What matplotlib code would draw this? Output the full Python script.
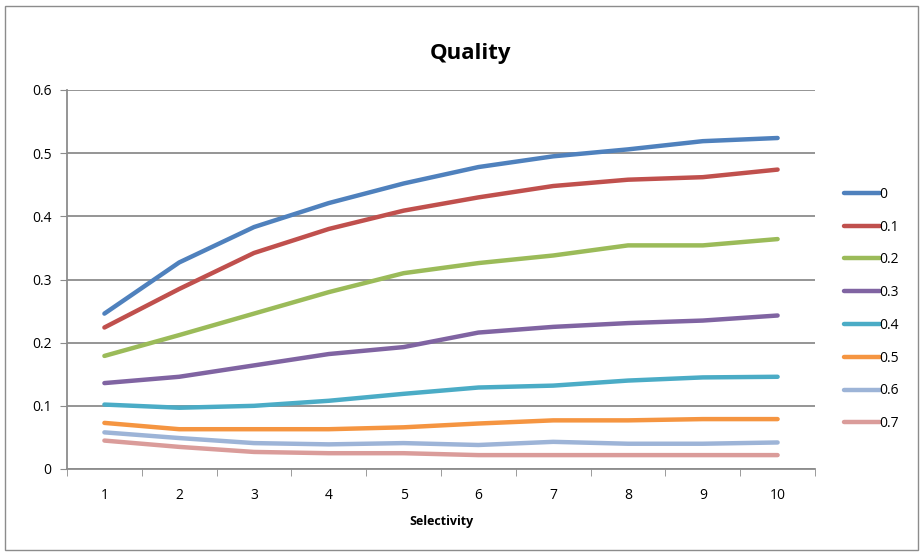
import matplotlib
matplotlib.use('Agg')
import matplotlib.pyplot as plt
from matplotlib.patches import Rectangle

plt.rcParams['font.family'] = ['Open Sans', 'DejaVu Sans']

# data
selectivity = [1, 2, 3, 4, 5, 6, 7, 8, 9, 10]
series_names = ['0', '0.1', '0.2', '0.3', '0.4', '0.5', '0.6', '0.7']
q_00 = [0.246, 0.327, 0.383, 0.421, 0.452, 0.478, 0.495, 0.506, 0.519, 0.524]
q_01 = [0.224, 0.285, 0.342, 0.380, 0.409, 0.430, 0.448, 0.458, 0.462, 0.474]
q_02 = [0.179, 0.212, 0.246, 0.280, 0.310, 0.326, 0.338, 0.354, 0.354, 0.364]
q_03 = [0.136, 0.146, 0.164, 0.182, 0.193, 0.216, 0.225, 0.231, 0.235, 0.243]
q_04 = [0.102, 0.097, 0.100, 0.108, 0.119, 0.129, 0.132, 0.140, 0.145, 0.146]
q_05 = [0.073, 0.063, 0.063, 0.063, 0.066, 0.072, 0.077, 0.077, 0.079, 0.079]
q_06 = [0.058, 0.049, 0.041, 0.039, 0.041, 0.038, 0.043, 0.040, 0.040, 0.042]
q_07 = [0.045, 0.035, 0.027, 0.025, 0.025, 0.022, 0.022, 0.022, 0.022, 0.022]
all_series = [q_00, q_01, q_02, q_03, q_04, q_05, q_06, q_07]

colors = ['#4F81BD', '#C0504D', '#9BBB59', '#8064A2',
          '#4BACC6', '#F59541', '#9DB4D7', '#DA9C9A']

fig = plt.figure(figsize=(9.22, 5.56), dpi=100)
ax = fig.add_axes([67/922, 1 - 469/556, (815-67)/922, (469-90)/556])

# outer chart border
fig.patches.append(Rectangle((5/922, 6/556), 913/922, 544/556, transform=fig.transFigure,
                             fill=False, edgecolor='#8c8c8c', linewidth=1))

for vals, name, c in zip(all_series, series_names, colors):
    ax.plot(selectivity, vals, color=c, lw=3.2, solid_capstyle='round',
            solid_joinstyle='round', label=name)

ax.set_xlim(0.5, 10.5)
ax.set_ylim(0, 0.6)
ax.set_yticks([0, 0.1, 0.2, 0.3, 0.4, 0.5, 0.6])
ax.set_yticklabels(['0', '0.1', '0.2', '0.3', '0.4', '0.5', '0.6'])
ax.set_xticks(selectivity)
ax.set_xticks([x + 0.5 for x in range(0, 11)], minor=True)
ax.tick_params(axis='x', which='major', length=0, pad=14, labelsize=10)
ax.tick_params(axis='x', which='minor', length=5, color='#8c8c8c', direction='out')
ax.tick_params(axis='y', length=5, color='#8c8c8c', labelsize=10, pad=6)
ax.yaxis.grid(True, color='#8c8c8c', lw=1.3)
ax.set_axisbelow(True)
for s in ['top', 'right']:
    ax.spines[s].set_visible(False)
for s in ['left', 'bottom']:
    ax.spines[s].set_color('#8c8c8c')
    ax.spines[s].set_linewidth(1.3)

ax.set_xlabel('Selectivity', fontsize=9, fontweight='bold', labelpad=8)
fig.text(470/922, 1 - 53/556, 'Quality', ha='center', va='center',
         fontsize=16, fontweight='bold')

ax.legend(loc='center left', bbox_to_anchor=(831/922, 1 - 309/556), bbox_transform=fig.transFigure,
          frameon=False, fontsize=10, handlelength=2.6, handletextpad=0.0,
          labelspacing=1.28)

fig.savefig('out.png', dpi=100)
